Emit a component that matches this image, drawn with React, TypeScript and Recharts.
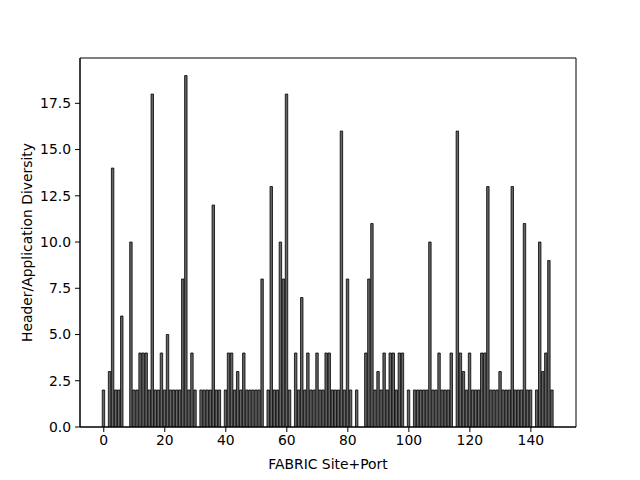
import { Bar, BarChart, Label, ReferenceArea, XAxis, YAxis } from "recharts";

// Header/application diversity for each FABRIC site+port.
const diversity = [
  2, 0, 3, 14, 2, 2, 6, 0, 0, 10,
  2, 2, 4, 4, 4, 2, 18, 2, 2, 4,
  2, 5, 2, 2, 2, 2, 8, 19, 2, 4,
  2, 0, 2, 2, 2, 2, 12, 2, 2, 0,
  2, 4, 4, 2, 3, 2, 4, 2, 2, 2,
  2, 2, 8, 0, 2, 13, 2, 2, 10, 8,
  18, 2, 0, 4, 2, 7, 2, 4, 2, 2,
  4, 2, 2, 4, 4, 2, 2, 2, 16, 2,
  8, 2, 0, 2, 0, 0, 4, 8, 11, 2,
  3, 2, 4, 2, 4, 4, 2, 4, 4, 0,
  2, 0, 2, 2, 2, 2, 2, 10, 2, 2,
  4, 2, 2, 2, 4, 0, 16, 4, 3, 2,
  4, 2, 2, 2, 4, 4, 13, 2, 2, 2,
  3, 2, 2, 2, 13, 2, 2, 2, 11, 2,
  2, 0, 2, 10, 3, 4, 9, 2,
];

const xTicks = [0, 20, 40, 60, 80, 100, 120, 140];
const yTicks = [0, 2.5, 5, 7.5, 10, 12.5, 15, 17.5];

// matplotlib-style autoscale: bar extents plus 5% margins
const X_DOMAIN: [number, number] = [-7.79, 154.79];
const Y_DOMAIN: [number, number] = [0, 19.95];

const PLOT_WIDTH = 496;
const FONT = "DejaVu Sans, sans-serif";
const FONT_SIZE = 13.9;

const rows = diversity.map((value, port) => ({ port, value }));

export default function App() {
  const barSize = (0.8 * PLOT_WIDTH) / (X_DOMAIN[1] - X_DOMAIN[0]);

  return (
    <div style={{ position: "absolute", left: 0, top: 0, fontFamily: FONT }}>
      <BarChart
        width={640}
        height={480}
        data={rows}
        margin={{ top: 58, right: 64, bottom: 8, left: 10 }}
      >
        <XAxis
          dataKey="port"
          type="number"
          domain={X_DOMAIN}
          ticks={xTicks}
          allowDataOverflow
          height={45}
          tickSize={5}
          tickMargin={3}
          stroke="#000"
          tick={{ fill: "#000", fontSize: FONT_SIZE, fontFamily: FONT }}
        >
          <Label
            value="FABRIC Site+Port"
            position="insideBottom"
            offset={3}
            style={{ fill: "#000", fontSize: FONT_SIZE, fontFamily: FONT }}
          />
        </XAxis>
        <YAxis
          type="number"
          domain={Y_DOMAIN}
          ticks={yTicks}
          allowDataOverflow
          width={70}
          tickSize={5}
          tickMargin={4}
          stroke="#000"
          tickFormatter={(v: number) => v.toFixed(1)}
          tick={{ fill: "#000", fontSize: FONT_SIZE, fontFamily: FONT }}
        >
          <Label
            content={({ viewBox }: any) => {
              const cx = viewBox.x + 17;
              const cy = viewBox.y + viewBox.height / 2;
              return (
                <text
                  x={cx}
                  y={cy}
                  transform={`rotate(-90 ${cx} ${cy})`}
                  textAnchor="middle"
                  dominantBaseline="central"
                  fill="#000"
                  fontSize={FONT_SIZE}
                  fontFamily={FONT}
                >
                  Header/Application Diversity
                </text>
              );
            }}
          />
        </YAxis>
        <Bar
          dataKey="value"
          fill="#666666"
          stroke="#000"
          strokeWidth={0.8}
          barSize={barSize}
          isAnimationActive={false}
        />
        <ReferenceArea
          x1={X_DOMAIN[0]}
          x2={X_DOMAIN[1]}
          y1={Y_DOMAIN[0]}
          y2={Y_DOMAIN[1]}
          fill="none"
          stroke="#000"
          strokeWidth={1}
          ifOverflow="visible"
        />
      </BarChart>
    </div>
  );
}
